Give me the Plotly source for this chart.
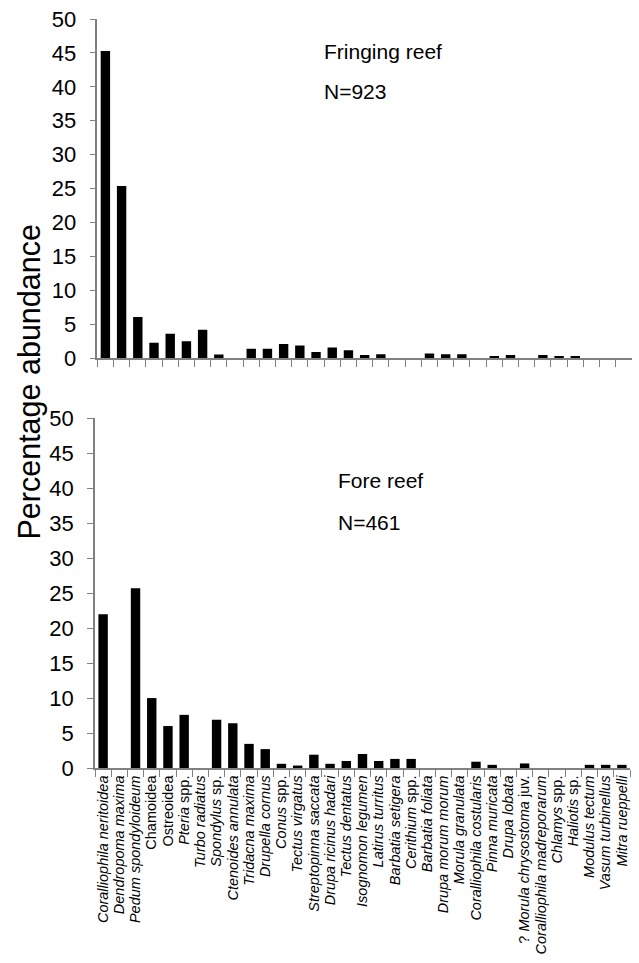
import plotly.graph_objects as go
from plotly.subplots import make_subplots

categories = [
    "Coralliophila neritoidea", "Dendropoma maxima", "Pedum spondyloideum",
    "Chamoidea", "Ostreoidea", "Pteria spp.", "Turbo radiatus", "Spondylus sp.",
    "Ctenoides annulata", "Tridacna maxima", "Drupella cornus", "Conus spp.",
    "Tectus virgatus", "Streptopinna saccata", "Drupa ricinus hadari",
    "Tectus dentatus", "Isognomon legumen", "Latirus turritus",
    "Barbatia setigera", "Cerithium spp.", "Barbatia foliata",
    "Drupa morum morum", "Morula granulata", "Coralliophila costularis",
    "Pinna muricata", "Drupa lobata", "? Morula chrysostoma juv.",
    "Coralliophila madreporarum", "Chlamys spp.", "Haliotis sp.",
    "Modulus tectum", "Vasum turbinellus", "Mitra rueppelli",
]

tick_labels = [
    "<i>Coralliophila neritoidea</i>", "<i>Dendropoma maxima</i>", "<i>Pedum spondyloideum</i>",
    "Chamoidea", "Ostreoidea", "<i>Pteria</i> spp.", "<i>Turbo radiatus</i>", "<i>Spondylus</i> sp.",
    "<i>Ctenoides annulata</i>", "<i>Tridacna maxima</i>", "<i>Drupella cornus</i>", "<i>Conus</i> spp.",
    "<i>Tectus virgatus</i>", "<i>Streptopinna saccata</i>", "<i>Drupa ricinus hadari</i>",
    "<i>Tectus dentatus</i>", "<i>Isognomon legumen</i>", "<i>Latirus turritus</i>",
    "<i>Barbatia setigera</i>", "<i>Cerithium</i> spp.", "<i>Barbatia foliata</i>",
    "<i>Drupa morum morum</i>", "<i>Morula granulata</i>", "<i>Coralliophila costularis</i>",
    "<i>Pinna muricata</i>", "<i>Drupa lobata</i>", "? <i>Morula chrysostoma</i> juv.",
    "<i>Coralliophila madreporarum</i>", "<i>Chlamys</i> spp.", "<i>Haliotis</i> sp.",
    "<i>Modulus tectum</i>", "<i>Vasum turbinellus</i>", "<i>Mitra rueppelli</i>",
]

fringing_reef = [45.3, 25.4, 6.1, 2.3, 3.6, 2.5, 4.2, 0.55, 0, 1.4, 1.4, 2.1,
                 1.9, 0.93, 1.6, 1.2, 0.5, 0.6, 0, 0, 0.7, 0.6, 0.6, 0,
                 0.35, 0.5, 0, 0.5, 0.35, 0.35, 0, 0, 0]

fore_reef = [22.0, 0, 25.7, 10.0, 6.0, 7.6, 0, 6.9, 6.4, 3.45, 2.7, 0.6,
             0.35, 1.9, 0.6, 1.0, 2.0, 1.0, 1.3, 1.3, 0, 0, 0, 0.9,
             0.45, 0, 0.65, 0, 0, 0, 0.45, 0.45, 0.45]

y_ticks = [0, 5, 10, 15, 20, 25, 30, 35, 40, 45, 50]

FONT = "Liberation Sans, Arial, sans-serif"
AX = "#808080"

fig = make_subplots(rows=2, cols=1)
fig.add_trace(go.Bar(x=categories, y=fringing_reef, marker=dict(color="black", line=dict(width=0)),
                     showlegend=False), row=1, col=1)
fig.add_trace(go.Bar(x=categories, y=fore_reef, marker=dict(color="black", line=dict(width=0)),
                     showlegend=False), row=2, col=1)

W, H = 639, 963
L, R, T, B = 95, 7, 19, 195
PW, PH = W - L - R, H - T - B

def py(Y):
    return (H - B - Y) / PH

def px(X):
    return (X - L) / PW

xcommon = dict(type="category", categoryorder="array", categoryarray=categories,
               showline=True, linecolor=AX, linewidth=1.5, ticks="outside", tickson="boundaries",
               ticklen=7, tickcolor=AX, tickwidth=1.2, showgrid=False, zeroline=False,
               tickmode="array", tickvals=categories, ticktext=tick_labels, tickangle=-90,
               automargin=False,
               tickfont=dict(family=FONT, size=14.5, color="black"))
ycommon = dict(range=[0, 50], tickvals=y_ticks, showline=True, linecolor=AX, linewidth=1.5,
               ticks="outside", ticklen=6, tickcolor=AX, tickwidth=1.2, showgrid=False,
               zeroline=False, automargin=False, ticklabelstandoff=9,
               tickfont=dict(family=FONT, size=22, color="black"))

fig.update_xaxes(**xcommon)
fig.update_yaxes(**ycommon)
fig.update_layout(
    xaxis=dict(domain=[2.3 / PW, 1], showticklabels=False),
    xaxis2=dict(domain=[0, 535 / PW]),
    yaxis=dict(domain=[py(358.3), py(19)]),
    yaxis2=dict(domain=[0, py(418.3)]),
)

fig.update_layout(
    width=W, height=H,
    margin=dict(l=L, r=R, t=T, b=B, autoexpand=False),
    paper_bgcolor="white", plot_bgcolor="white",
    bargap=0.42,
    font=dict(family=FONT, color="black"),
    annotations=[
        dict(text="Fringing reef", x=px(322), y=py(52), xref="paper", yref="paper",
             xanchor="left", yanchor="middle", showarrow=False, font=dict(size=21)),
        dict(text="N=923", x=px(322), y=py(92), xref="paper", yref="paper",
             xanchor="left", yanchor="middle", showarrow=False, font=dict(size=21)),
        dict(text="Fore reef", x=px(335.5), y=py(480), xref="paper", yref="paper",
             xanchor="left", yanchor="middle", showarrow=False, font=dict(size=21)),
        dict(text="N=461", x=px(335.5), y=py(522), xref="paper", yref="paper",
             xanchor="left", yanchor="middle", showarrow=False, font=dict(size=21)),
        dict(text="Percentage abundance", x=px(29), y=py(382.5), xref="paper", yref="paper",
             xanchor="center", yanchor="middle", textangle=-90, showarrow=False,
             font=dict(size=30.5)),
    ],
)

fig.write_html("out.html", config={"displayModeBar": False},
               post_script="document.body.style.margin='0px';")
